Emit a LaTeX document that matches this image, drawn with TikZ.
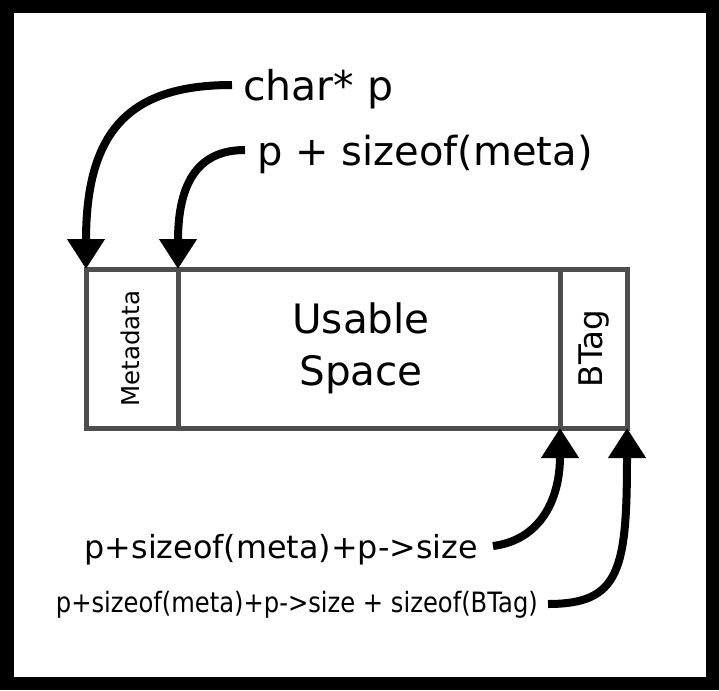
\documentclass[tikz,border=0pt]{standalone}
\usepackage{fontspec}
\setmainfont{DejaVu Sans}
\usepackage{graphicx}
\usetikzlibrary{arrows.meta,positioning,calc}
\definecolor{cellgray}{HTML}{4D4D4D}

\begin{document}
\begin{tikzpicture}[x=1pt,y=-1pt,>={Triangle[width=36pt,length=30pt]},
    cell/.style={draw=cellgray,line width=5pt,inner sep=0pt,outer sep=0pt,minimum height=159pt},
    ptr/.style={->,line width=8pt},
    lbl/.style={inner sep=0pt,font=\fontsize{41}{48}\selectfont}]
    \useasboundingbox (0,0) rectangle (719,690);
    % Frame
    \draw[line width=13.5pt] (6.75,6.75) rectangle (712.25,683.25);

    % Memory block: metadata | usable space | boundary tag
    \node[cell,minimum width=92pt] (meta) at (132,348.5) {};
    \node[cell,minimum width=382pt,right=0pt of meta] (usable) {};
    \node[cell,minimum width=67pt,right=0pt of usable] (btag) {};

    \node[rotate=90,font=\fontsize{24.5}{28}\selectfont] (metatxt) at ([xshift=-2pt]meta.center) {Metadata};
    \node[align=center,font=\fontsize{40.5}{52}\selectfont] (usabletxt) at ([xshift=-8pt]usable.center) {Usable\\Space};
    \node[rotate=90,font=\fontsize{32.5}{36}\selectfont] (btagtxt) at ([xshift=1pt]btag.center) {BTag};

    % Pointers above
    \node[lbl,anchor=base west] (charp) at (243,100) {char* p};
    \node[lbl,anchor=base west,font=\fontsize{40}{48}\selectfont] (pmeta) at (257,165) {p + sizeof(meta)};
    \draw[ptr] ($(charp.base west)+(-11,-15)$) .. controls (130,85) and (86,130) .. (meta.north west);
    \draw[ptr] ($(pmeta.base west)+(-12,-15)$) .. controls (200,150) and (178,180) .. (usable.north west);

    % Pointers below
    \node[lbl,anchor=base east,font=\fontsize{31.8}{38}\selectfont] (pend) at (478,558) {p+sizeof(meta)+p->size};
    \node[lbl,anchor=base east,font=\fontsize{28}{34}\selectfont] (ptag) at (538,612) {\scalebox{0.865}[1]{p+sizeof(meta)+p->size + sizeof(BTag)}};
    \draw[ptr] ($(pend.base east)+(15,-12)$) .. controls (540,540) and (560,500) .. (usable.south east);
    \draw[ptr] ($(ptag.base east)+(10,-8)$) .. controls (620,604) and (627,570) .. (btag.south east);
\end{tikzpicture}
\end{document}
